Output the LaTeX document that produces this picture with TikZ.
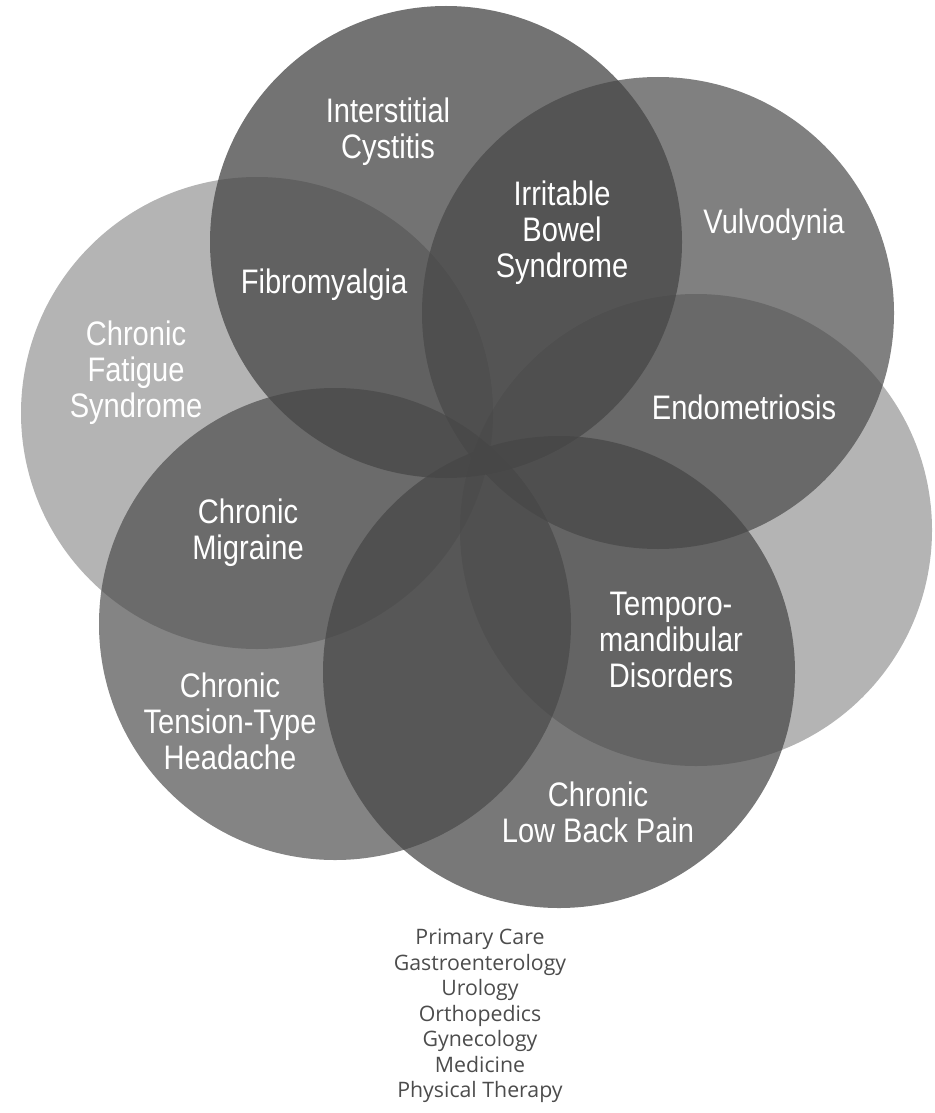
\documentclass[tikz,border=0pt]{standalone}
\usepackage{fontspec}
\setmainfont{Liberation Sans}
\newfontfamily\labelfont[FakeStretch=0.855]{Liberation Sans}
\newfontfamily\listfont{Open Sans}
\definecolor{vennbase}{gray}{0.275}
\definecolor{listgray}{gray}{0.30}
\tikzset{
  venn/.style={circle, minimum size=472pt, inner sep=0pt, fill=vennbase, draw=none},
  lbl/.style={text=white, align=center, inner sep=0pt,
    font=\labelfont\fontsize{34}{36}\selectfont},
  listitem/.style={text=listgray, inner sep=0pt, align=center,
    font=\listfont\fontsize{21.3}{25.5}\selectfont}
}
\begin{document}
\begin{tikzpicture}[x=1pt,y=-1pt]
\useasboundingbox (0,0) rectangle (934,1113);
% overlapping condition circles (same base tone, different opacities)
\node[venn, fill opacity=0.405] (cfs)  at (257,413) {};
\node[venn, fill opacity=0.405] (tmdc) at (696,530) {};
\node[venn, fill opacity=0.757] (icc)  at (446,242) {};
\node[venn, fill opacity=0.686] (vvc)  at (658,313) {};
\node[venn, fill opacity=0.665] (hdc)  at (335,624) {};
\node[venn, fill opacity=0.730] (lbc)  at (559,672) {};
% condition labels
\node[lbl] (ic)   at (388,132) {Interstitial\\Cystitis};
\node[lbl] (ibs)  at (562,233) {Irritable\\Bowel\\Syndrome};
\node[lbl] (vv)   at (774,225) {Vulvodynia};
\node[lbl] (fm)   at (324,285) {Fibromyalgia};
\node[lbl] (cf)   at (136,373) {Chronic\\Fatigue\\Syndrome};
\node[lbl] (en)   at (744,407) {Endometriosis};
\node[lbl] (cm)   at (248,533) {Chronic\\Migraine};
\node[lbl] (tmd)  at (671,640) {Temporo-\\mandibular\\Disorders};
\node[lbl] (tth)  at (230,721) {Chronic\\Tension-Type\\Headache};
\node[lbl] (lbp)  at (598,812) {Chronic\\Low Back Pain};
% specialties
\node[listitem] (spec) at (480,1016) {Primary Care\\Gastroenterology\\Urology\\Orthopedics\\Gynecology\\Medicine\\Physical Therapy};
\end{tikzpicture}
\end{document}
